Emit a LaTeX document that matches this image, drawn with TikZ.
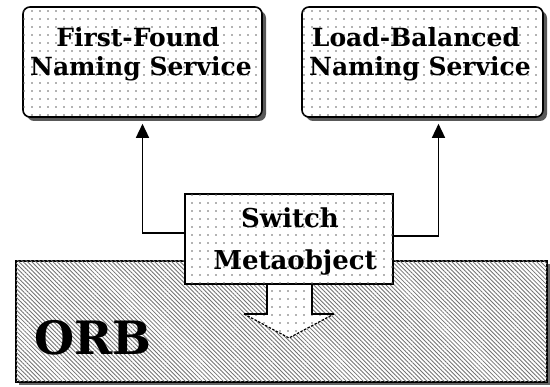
\documentclass[tikz,border=0pt]{standalone}
\usepackage{fontspec}
\setmainfont{DejaVu Serif}
\usetikzlibrary{patterns.meta,arrows.meta,calc}

\tikzset{
  dotfill/.style={fill=white,
    postaction={pattern={Dots[distance=8pt,radius=0.85pt]},pattern color=black!60}},
  svcbox/.style={draw=black,line width=1.6pt,rounded corners=7pt,dotfill,
    preaction={fill=black!65,transform canvas={xshift=4pt,yshift=-4pt}}},
  boxtext/.style={anchor=base,inner sep=0pt,font=\fontsize{25}{25}\selectfont\bfseries},
  orbbox/.style={draw=black,line width=1.6pt,fill=white,
    preaction={fill=black!60,transform canvas={xshift=3pt,yshift=-3pt}},
    postaction={pattern={Lines[angle=-45,distance=3pt,line width=0.85pt]},pattern color=black!55}},
  switchbox/.style={draw=black,line width=1.4pt,dotfill},
  link/.style={draw=black,line width=1.4pt,
    -{Triangle[width=13pt,length=14pt]},shorten >=6pt},
}

\begin{document}
\begin{tikzpicture}[x=1pt,y=1pt]
  \useasboundingbox (0,0) rectangle (550,387);

  % the ORB layer
  \node[orbbox,minimum width=531pt,minimum height=121pt] (orb) at (281.5,65.5) {};
  \node[anchor=base west,inner sep=0pt,font=\fontsize{46}{46}\selectfont\bfseries]
    (orblbl) at (34,32) {ORB};

  % the two naming services
  \node[svcbox,minimum width=239pt,minimum height=110pt] (ff) at (142.5,325) {};
  \node[boxtext] (ff1) at (138,340) {First-Found};
  \node[boxtext] (ff2) at (141,311) {Naming Service};
  \node[svcbox,minimum width=241pt,minimum height=110pt] (lb) at (422.5,325) {};
  \node[boxtext] (lb1) at (416,340) {Load-Balanced};
  \node[boxtext] (lb2) at (420,311) {Naming Service};

  % the switch metaobject and its downward arrow into the ORB
  \coordinate (tip) at (289,49);
  \fill[white] (267,104) -- (267,73) -- (244,73) -- (tip) -- (334,73) -- (312,73) -- (312,104) -- cycle;
  \path[pattern={Dots[distance=8pt,radius=0.85pt]},pattern color=black!60]
    (268,104) -- (268,73.8) -- (245.5,73.8) -- (289,50.5) -- (332.5,73.8) -- (311,73.8) -- (311,104) -- cycle;
  \draw[black,line width=1.4pt] (244,73) -- (267,73) -- (267,104);
  \draw[black,line width=1.4pt] (334,73) -- (312,73) -- (312,104);
  \draw[black,line width=1.2pt,dash pattern=on 2.5pt off 1.5pt] (244,73) -- (tip) -- (334,73);
  \node[switchbox,minimum width=208pt,minimum height=90pt] (sw) at (289,148) {};
  \node[boxtext,font=\fontsize{26}{26}\selectfont\bfseries] (sw1) at (290,159) {Switch};
  \node[boxtext,font=\fontsize{26}{26}\selectfont\bfseries] (sw2) at (295,117) {Metaobject};

  % connectors from the switch up to each service
  \draw[link] ([yshift=6pt]sw.west) -| (ff.south);
  \draw[link] ([yshift=3pt]sw.east) -| ([xshift=16pt]lb.south);
\end{tikzpicture}
\end{document}
